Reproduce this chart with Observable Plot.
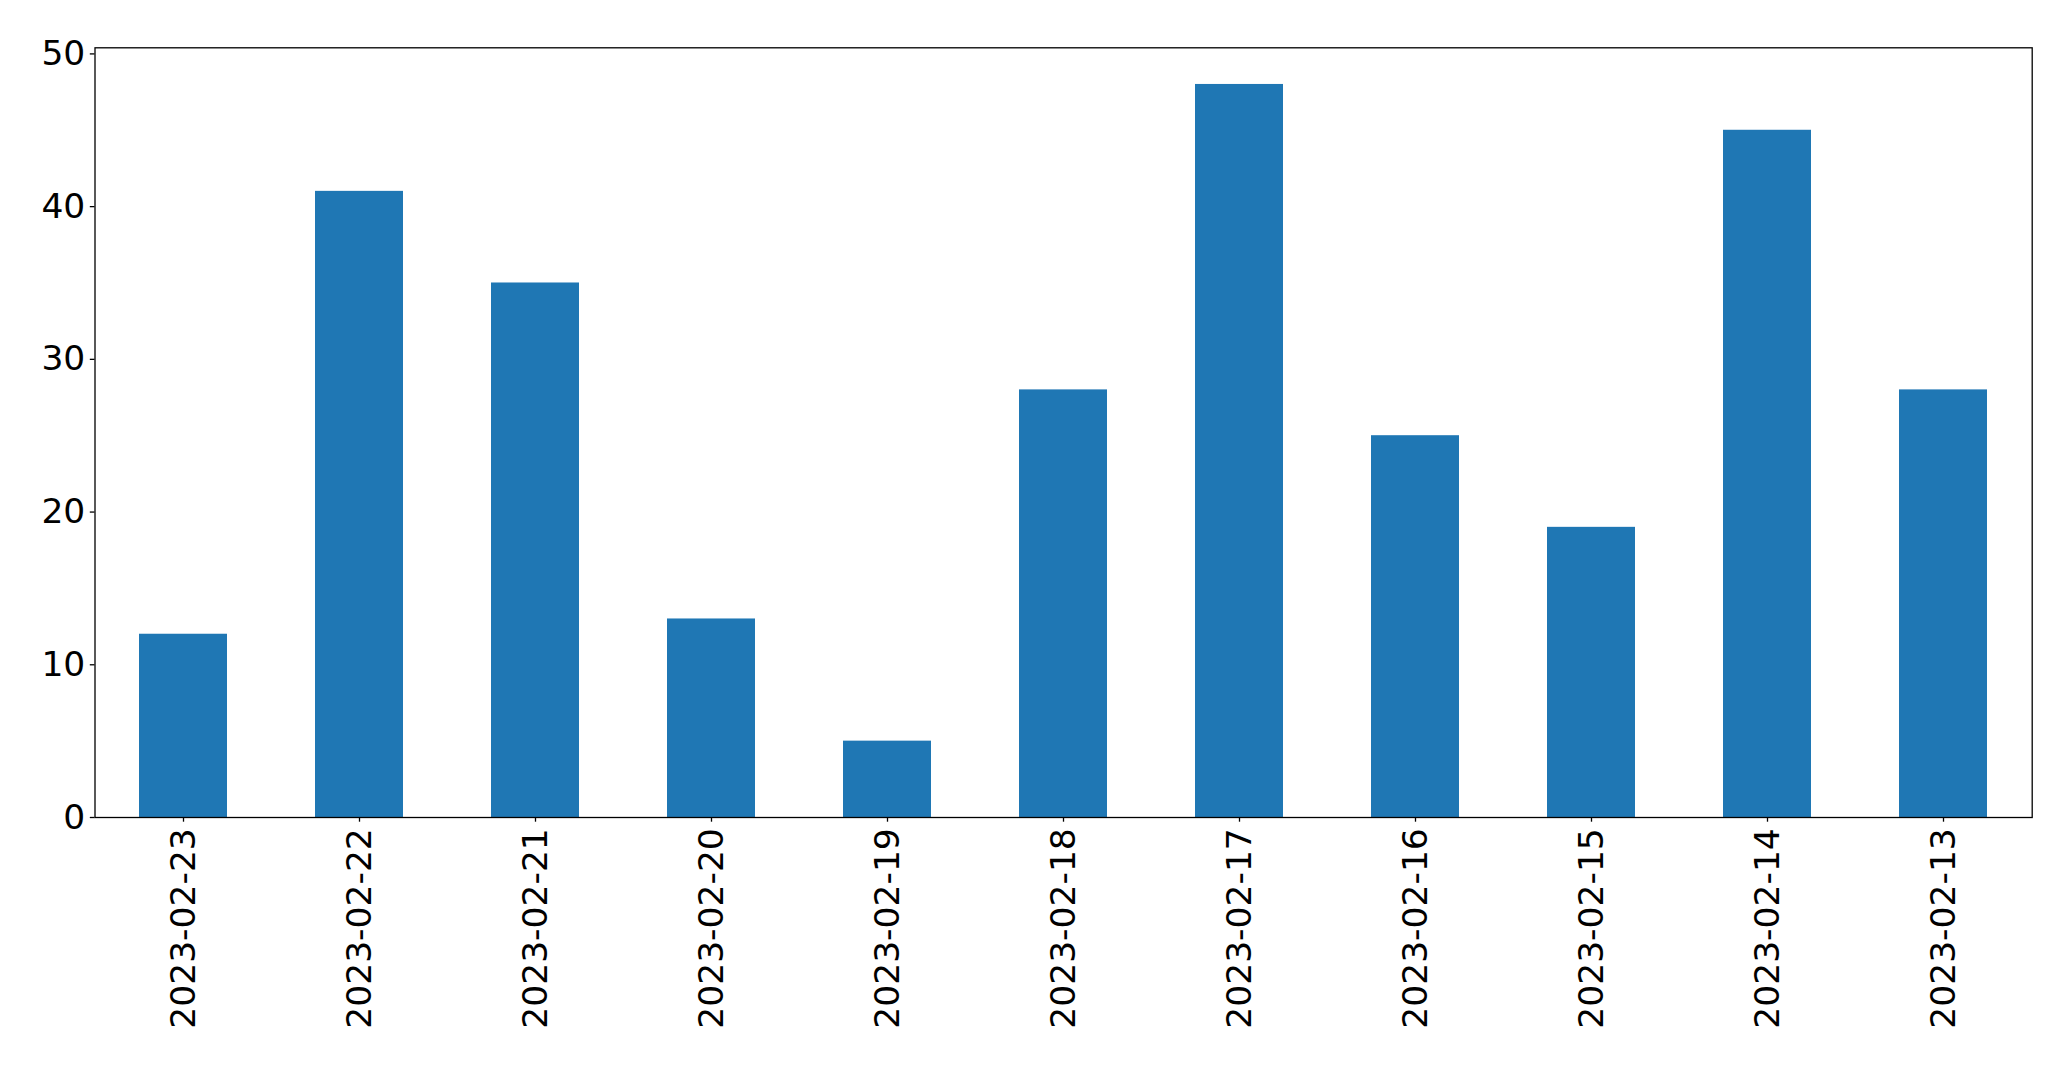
<!DOCTYPE html>
<html>
<head>
<meta charset="utf-8">
<script src="https://cdn.jsdelivr.net/npm/d3@7"></script>
<script src="https://cdn.jsdelivr.net/npm/@observablehq/plot@0.6"></script>
<style>
  html, body { margin: 0; padding: 0; background: #fff; }
  #chart svg { display: block; }
</style>
</head>
<body>
<div id="chart"></div>
<script>
const dates = ["2023-02-23","2023-02-22","2023-02-21","2023-02-20","2023-02-19","2023-02-18","2023-02-17","2023-02-16","2023-02-15","2023-02-14","2023-02-13"];
const counts = [12, 41, 35, 13, 5, 28, 48, 25, 19, 45, 28];
const yTicks = [0, 10, 20, 30, 40, 50];

const data = dates.map((d, i) => ({date: d, value: counts[i]}));

const chart = Plot.plot({
  width: 2071,
  height: 1069,
  marginLeft: 94.5,
  marginRight: 39.3,
  marginTop: 47.3,
  marginBottom: 252,
  style: {fontFamily: "DejaVu Sans", fontSize: "34.5px", color: "#000", background: "#fff"},
  x: {domain: dates, paddingInner: 0.5, paddingOuter: 0.25, label: null},
  y: {domain: [0, 50.4], label: null},
  marks: [
    Plot.barY(data, {x: "date", y: "value", fill: "#1f77b4"}),
    Plot.frame({stroke: "#000", strokeWidth: 1.3}),
    Plot.axisY({ticks: yTicks, tickSize: 4.7, tickPadding: 5, tickFormat: d => String(d), label: null, fontSize: 34.5, strokeWidth: 1.3}),
    Plot.axisX({tickSize: 4.7, tickPadding: 6, tickRotate: -90, label: null, fontSize: 34.5, strokeWidth: 1.3})
  ]
});
document.getElementById("chart").appendChild(chart);
</script>
</body>
</html>
